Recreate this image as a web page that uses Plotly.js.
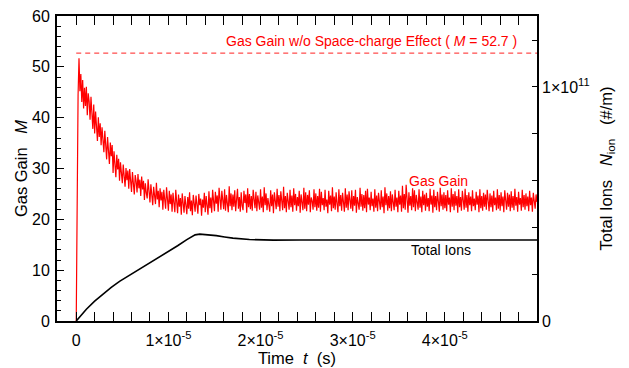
<!DOCTYPE html>
<html>
<head>
<meta charset="utf-8">
<script src="https://cdn.plot.ly/plotly-3.0.1.min.js"></script>
<style>html,body{margin:0;padding:0;background:#fff;}#chart{width:629px;height:368px;}</style>
</head>
<body>
<div id="chart"></div>
<script>
// ---- Data ----
// Gas gain M, sampled every gainStep seconds starting at t = 0
const gainStep = 1e-7;
const gainValues = [
  0, 24.0, 44.5, 51.7, 45.2, 48.6, 43.1, 47.4, 41.8, 45.9,
  42.3, 46.1, 40.5, 44.8, 43.2, 39.6, 44.1, 40.9, 37.8, 42.6,
  36.9, 41.2, 38.3, 35.4, 40.1, 36.2, 38.9, 34.6, 38.1, 35.9,
  33.2, 37.4, 34.1, 31.8, 36.2, 33.5, 30.9, 35.1, 32.4, 34.6,
  29.1, 33.4, 30.6, 28.3, 32.7, 29.8, 31.9, 27.6, 31.2, 29.4,
  27.1, 30.8, 28.2, 26.4, 30.1, 27.7, 29.6, 26.0, 29.9, 27.3,
  25.4, 29.3, 26.8, 24.9, 28.7, 27.5, 25.3, 28.9, 26.1, 27.8,
  24.6, 28.4, 25.9, 27.6, 23.8, 27.1, 25.2, 24.1, 27.9, 24.7,
  23.3, 26.9, 24.5, 22.8, 26.4, 25.1, 23.0, 27.2, 23.9, 25.6,
  22.4, 26.1, 23.7, 25.4, 21.9, 25.8, 23.2, 22.1, 26.3, 23.8,
  21.7, 25.6, 23.0, 24.9, 21.5, 25.2, 22.6, 21.4, 25.8, 22.9,
  21.2, 24.9, 22.5, 24.2, 20.9, 25.1, 22.7, 21.3, 24.6, 23.3,
  21.0, 24.4, 22.1, 25.3, 21.6, 23.7, 20.8, 24.8, 22.4, 21.5,
  24.7, 22.0, 21.1, 25.0, 22.8, 24.1, 20.7, 23.9, 22.3, 25.2,
  21.4, 24.6, 22.6, 20.9, 25.5, 22.2, 24.3, 21.3, 25.8, 22.9,
  21.6, 25.4, 23.1, 24.7, 21.5, 26.2, 22.8, 21.9, 25.6, 23.4,
  22.0, 25.9, 21.7, 24.8, 23.3, 21.4, 26.5, 22.6, 25.1, 21.8,
  24.9, 22.5, 25.7, 21.6, 23.9, 26.0, 22.1, 24.4, 21.5, 25.3,
  22.7, 21.8, 25.6, 23.2, 24.9, 21.3, 26.1, 22.4, 25.0, 22.0,
  24.6, 21.7, 25.8, 23.0, 22.2, 25.4, 21.6, 24.7, 23.5, 21.9,
  25.9, 22.3, 24.5, 21.4, 26.3, 22.8, 25.1, 21.8, 24.2, 23.1,
  21.5, 25.7, 22.6, 24.9, 21.2, 25.3, 23.4, 22.0, 26.0, 22.5,
  24.8, 21.6, 25.5, 22.9, 21.8, 26.4, 22.2, 24.6, 21.4, 25.2,
  23.0, 21.9, 25.8, 22.4, 24.7, 21.5, 26.1, 22.8, 25.0, 21.7,
  24.4, 22.6, 25.6, 21.3, 24.9, 23.2, 21.8, 26.2, 22.1, 25.3,
  21.6, 24.8, 22.9, 25.7, 21.4, 24.3, 23.6, 21.9, 25.9, 22.4,
  25.1, 21.7, 24.6, 22.3, 26.0, 21.5, 25.4, 22.8, 24.2, 21.8,
  25.8, 22.5, 23.9, 21.2, 25.6, 22.9, 24.7, 21.6, 26.3, 22.2,
  24.5, 21.9, 25.3, 23.1, 21.4, 25.9, 22.6, 24.8, 21.7, 25.2,
  22.8, 21.5, 26.1, 22.3, 24.9, 21.8, 25.5, 23.0, 22.1, 25.7,
  21.6, 24.6, 22.7, 25.8, 21.3, 24.4, 23.3, 21.9, 26.2, 22.5,
  25.0, 21.7, 24.8, 22.2, 25.6, 21.4, 26.0, 22.9, 24.3, 21.8,
  25.4, 22.6, 24.1, 21.5, 25.9, 22.3, 24.7, 21.6, 25.2, 23.0,
  21.9, 25.7, 22.4, 24.5, 21.2, 26.3, 22.8, 25.1, 21.7, 24.6,
  22.2, 25.5, 21.6, 24.9, 23.1, 21.8, 25.8, 22.5, 24.3, 21.4,
  25.6, 22.9, 24.7, 21.5, 26.6, 22.2, 25.0, 21.9, 26.8, 22.6,
  21.3, 25.3, 22.7, 24.6, 21.8, 26.1, 22.4, 25.7, 21.6, 24.8,
  23.2, 21.9, 25.9, 22.3, 24.5, 21.4, 25.6, 22.8, 24.9, 21.7,
  25.2, 22.5, 24.2, 21.6, 26.0, 22.9, 24.7, 21.3, 25.8, 22.4,
  24.6, 21.8, 25.4, 23.0, 21.5, 26.2, 22.6, 24.9, 21.9, 25.3,
  22.2, 24.8, 21.6, 25.7, 22.9, 24.3, 21.4, 26.1, 22.5, 25.0,
  21.8, 25.5, 22.7, 24.6, 21.3, 25.9, 22.4, 24.4, 21.7, 25.6,
  23.1, 21.9, 26.0, 22.3, 24.8, 21.5, 25.3, 22.8, 24.5, 21.6,
  25.7, 22.6, 24.1, 21.8, 25.4, 22.9, 24.7, 21.4, 25.9, 22.2,
  24.6, 21.7, 25.2, 22.5, 24.9, 21.9, 25.8, 23.0, 21.6, 25.1,
  22.4, 24.7, 21.5, 25.6, 22.8, 24.3, 21.8, 25.9, 22.1, 24.8,
  21.7, 25.3, 22.6, 24.5, 21.4, 25.7, 23.1, 21.9, 25.2, 22.5,
  24.9, 21.6, 25.5, 22.3, 24.6, 21.8, 26.0, 22.7, 24.4, 21.5,
  25.4, 22.9, 24.2, 21.7, 25.8, 22.4, 24.8, 21.9, 25.1, 22.6,
  24.5, 21.6, 25.6, 22.8, 24.3, 21.5, 25.2, 23.0, 22.1, 24.9,
  23.4
];

// Total ions N_ion (#/m)
const ionTime = [0, 0.5e-6, 1.1e-6, 2.0e-6, 2.9e-6, 3.8e-6, 4.7e-6, 5.6e-6, 6.5e-6, 7.4e-6, 8.3e-6, 9.2e-6, 10.1e-6, 11.0e-6, 12.0e-6, 12.5e-6, 12.9e-6, 13.4e-6, 14.1e-6, 15.2e-6, 16.1e-6, 17.0e-6, 18.8e-6, 21.4e-6, 24.3e-6, 50e-6];
const ionValues = [0, 0.25e10, 0.50e10, 0.847e10, 1.15e10, 1.433e10, 1.693e10, 1.91e10, 2.128e10, 2.334e10, 2.54e10, 2.757e10, 2.974e10, 3.213e10, 3.474e10, 3.604e10, 3.68e10, 3.712e10, 3.69e10, 3.647e10, 3.59e10, 3.539e10, 3.48e10, 3.455e10, 3.463e10, 3.463e10];

// Gain without space-charge effect
const refGainTime = [0, 5e-5];
const refGainValue = [52.7, 52.7];

// Tick labels
const xTickVals = [0, 1e-5, 2e-5, 3e-5, 4e-5];
const xTickText = ['0', '1×10<sup>-5</sup>', '2×10<sup>-5</sup>', '3×10<sup>-5</sup>', '4×10<sup>-5</sup>'];
const yTickVals = [0, 10, 20, 30, 40, 50, 60];
const y2TickVals = [0, 2e10, 4e10, 6e10, 8e10, 1e11, 1.2e11];
const y2TickText = ['0', '', '', '', '', '1×10<sup>11</sup>', ''];

// ---- Build ----
const gainTime = gainValues.map((_, i) => i * gainStep);
const FONT = '"Liberation Sans", Arial, sans-serif';

const traces = [
  {x: gainTime, y: gainValues, type: 'scatter', mode: 'lines',
   line: {color: '#ff0000', width: 1.2}, yaxis: 'y', hoverinfo: 'skip'},
  {x: refGainTime, y: refGainValue, type: 'scatter', mode: 'lines',
   line: {color: '#ff2020', width: 1, dash: '5px,4px'}, yaxis: 'y', hoverinfo: 'skip'},
  {x: ionTime, y: ionValues, type: 'scatter', mode: 'lines', line: {color: '#000', width: 1.6},
   yaxis: 'y2', hoverinfo: 'skip'}
];

const layout = {
  width: 629, height: 368,
  margin: {l: 57, r: 92, t: 16, b: 47, pad: 0},
  paper_bgcolor: '#fff', plot_bgcolor: '#fff',
  showlegend: false,
  font: {family: FONT, size: 16, color: '#000'},
  xaxis: {
    range: [-2.087e-6, 5.0e-5],
    tickmode: 'array', tickvals: xTickVals, ticktext: xTickText,
    ticks: 'inside', ticklen: 9, tickwidth: 1, tickcolor: '#000',
    minor: {tickmode: 'linear', tick0: 0, dtick: 2e-6, ticks: 'inside', ticklen: 4.5, tickwidth: 1, tickcolor: '#000'},
    showline: true, linewidth: 2, linecolor: '#000', mirror: 'allticks',
    showgrid: false, zeroline: false,
    ticklabelstandoff: 4,
    tickfont: {size: 16},
    title: {text: 'Time\u00a0\u00a0<i>t</i>\u00a0\u00a0(s)', font: {size: 16.5}, standoff: 2}
  },
  yaxis: {
    range: [0, 60],
    tickmode: 'array', tickvals: yTickVals,
    ticks: 'inside', ticklen: 7, tickwidth: 1, tickcolor: '#000',
    minor: {tickmode: 'linear', tick0: 0, dtick: 2, ticks: 'inside', ticklen: 4, tickwidth: 1, tickcolor: '#000'},
    showline: true, linewidth: 2, linecolor: '#000', mirror: true,
    showgrid: false, zeroline: false,
    tickfont: {size: 16},
    ticklabelstandoff: 2,
    title: {text: 'Gas Gain\u00a0\u00a0\u00a0<i>M</i>', font: {size: 16.5}, standoff: 0}
  },
  yaxis2: {
    overlaying: 'y', side: 'right', anchor: 'x',
    range: [0, 1.303e11],
    tickmode: 'array', tickvals: y2TickVals, ticktext: y2TickText,
    ticks: 'inside', ticklen: 5, tickwidth: 1, tickcolor: '#000',
    showline: false, showgrid: false, zeroline: false,
    tickfont: {size: 16},
    ticklabelstandoff: 4,
    title: {text: 'Total Ions\u00a0\u00a0\u00a0<i>N</i><sub>ion</sub>\u00a0\u00a0\u00a0(#/m)', font: {size: 16.5}, standoff: 11}
  },
  annotations: [
    {xref: 'x', yref: 'y', x: 3.204e-5, y: 55.0, showarrow: false,
     text: 'Gas Gain w/o Space-charge Effect ( <i>M</i> = 52.7 )', font: {size: 14, color: '#ff0000'}},
    {xref: 'x', yref: 'y', x: 3.93e-5, y: 27.5, showarrow: false,
     text: 'Gas Gain', font: {size: 14, color: '#ff0000'}},
    {xref: 'x', yref: 'y', x: 3.96e-5, y: 13.9, showarrow: false,
     text: 'Total Ions', font: {size: 14, color: '#000'}}
  ]
};

Plotly.newPlot('chart', traces, layout, {staticPlot: true, displayModeBar: false});
</script>
</body>
</html>
